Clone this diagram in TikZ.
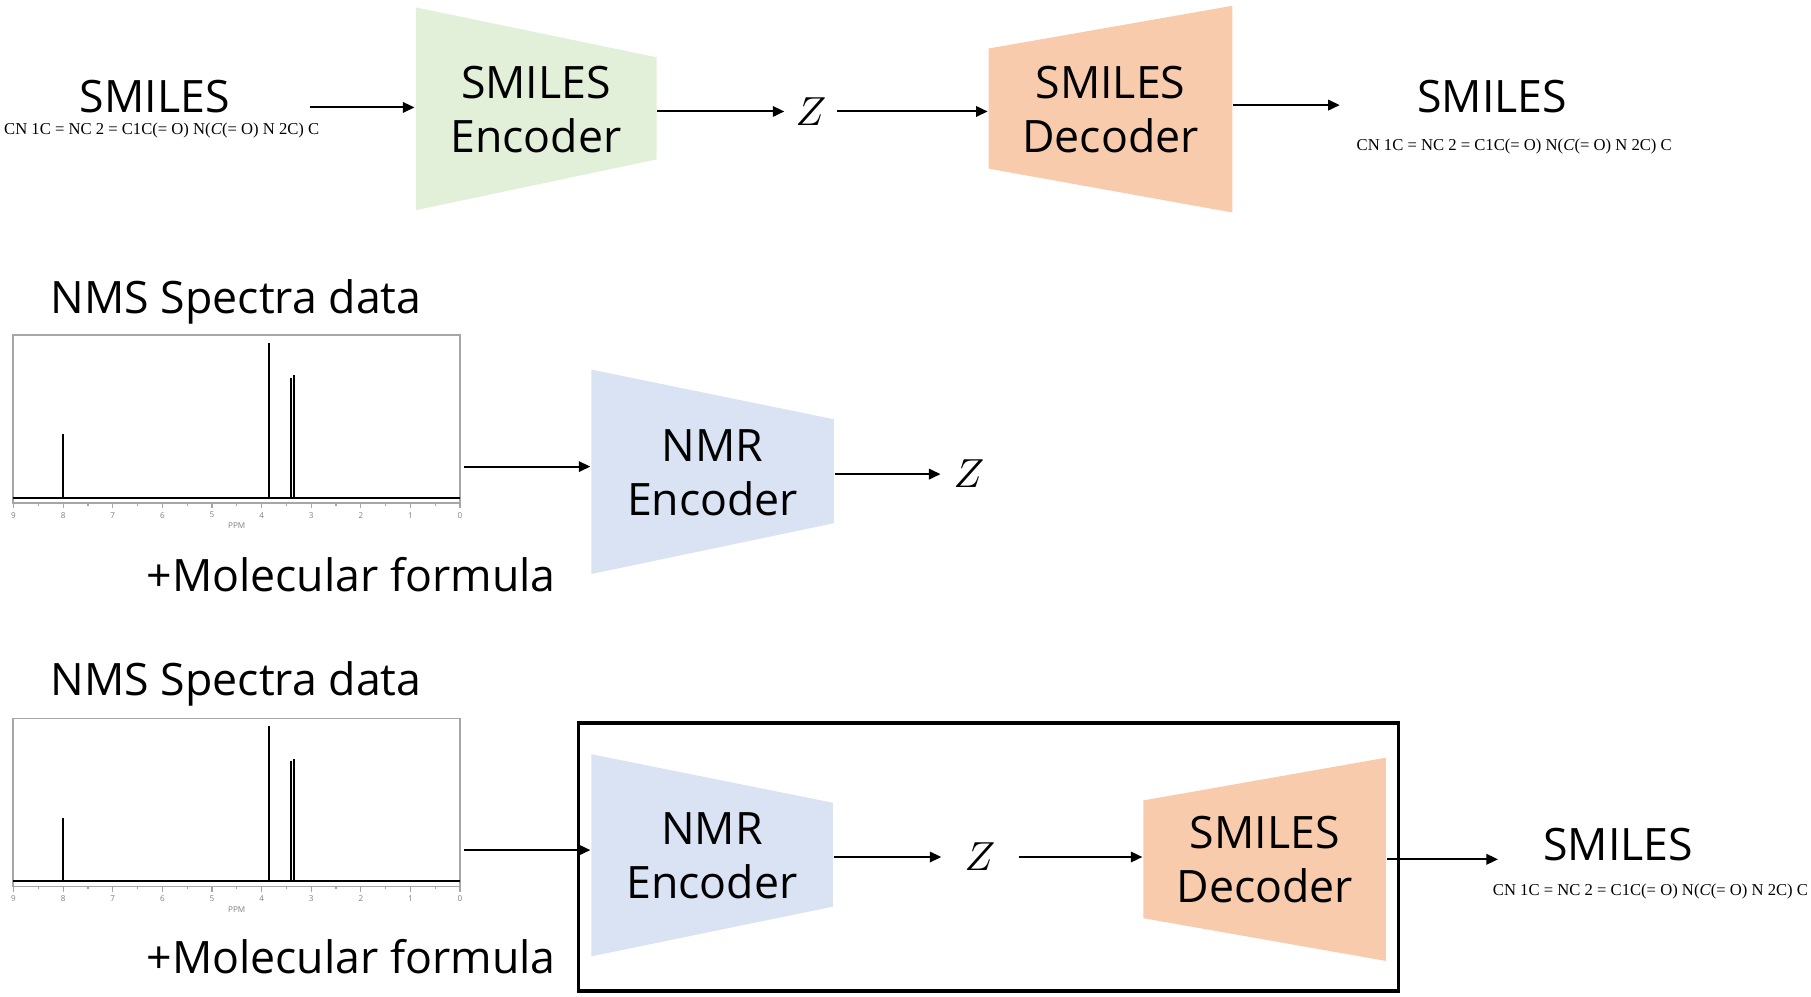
\documentclass[tikz,border=0pt]{standalone}
\usepackage{fontspec}
\setmainfont{Open Sans}
\newfontfamily\smilesfont{Liberation Serif}
\usetikzlibrary{arrows.meta}

\definecolor{encgreen}{HTML}{E2F0D9}
\definecolor{decorange}{HTML}{F8CBAD}
\definecolor{nmrblue}{HTML}{DAE3F3}

\newcommand{\smilesstr}{CN 1C = NC 2 = C1C(= O) N(\textit{C}(= O) N 2C) C}

\tikzset{
  lbl/.style={font=\fontsize{11}{13.2}\selectfont, inner sep=0pt},
  coder/.style={lbl, align=center, minimum height=0.9cm},
  zed/.style={font=\fontsize{10.4}{12}\selectfont, inner ysep=0pt, inner xsep=2.5pt},
  smi/.style={font=\smilesfont\fontsize{4.1}{5}\selectfont, inner sep=0pt},
  tick/.style={font=\fontsize{2}{2.4}\selectfont, text=gray, inner sep=0pt},
}

\begin{document}
\begin{tikzpicture}[x=1cm, y=-1cm, line width=0.5pt,
  arr/.style={-{Triangle[length=1mm,width=0.9mm]}}]
	\useasboundingbox (0,0) rectangle (15.68,8.63);

	% SMILES autoencoder
	\node[lbl] (in1) at (1.34,0.84) {SMILES};
	\node[smi] (in1f) at (1.40,1.13) {\smilesstr};
	\coordinate (in1a) at (2.68,0.93);
	\fill[encgreen] (3.60,0.064) -- (5.685,0.496) -- (5.685,1.38) -- (3.60,1.82) -- cycle;
	\node[coder, minimum width=2.085cm] (enc1) at (4.64,0.95) {SMILES\\Encoder};
	\node[zed] (z1) at (7.02,0.965) {$Z$};
	\fill[decorange] (8.56,0.42) -- (10.67,0.05) -- (10.67,1.84) -- (8.56,1.46) -- cycle;
	\node[coder, minimum width=2.11cm] (dec1) at (9.615,0.95) {SMILES\\Decoder};
	\coordinate (out1a) at (11.60,0.91);
	\node[lbl] (out1) at (12.92,0.835) {SMILES};
	\node[smi] (out1f) at (13.11,1.27) {\smilesstr};
	\draw[arr] (in1a) -- (in1a -| enc1.west);
	\draw[arr] (enc1.east |- z1) -- (z1.west);
	\draw[arr] (z1.east) -- (z1 -| dec1.west);
	\draw[arr] (dec1.east |- out1a) -- (out1a);

	% spectra
	\foreach \t/\s in {2.90/a,6.22/b} {
		\draw[gray!70, line width=0.4pt] (0.115,\t) rectangle (3.985,{\t+1.455});
		\foreach \p in {0,...,9} {
			\draw[gray!70, line width=0.3pt] ({3.983-0.4295*\p},{\t+1.455}) -- ++(0,0.045);
			\node[tick] (\s\p) at ({3.983-0.4295*\p},{\t+1.56}) {\p};
		}
		\foreach \p in {0.5,1.5,...,8.5}
			\draw[gray!70, line width=0.3pt] ({3.983-0.4295*\p},{\t+1.455}) -- ++(0,0.025);
		\node[tick] (ppm\s) at (2.05,{\t+1.655}) {PPM};
		\draw[line width=0.6pt] (0.115,{\t+1.41}) -- (3.985,{\t+1.41});
		\foreach \x/\h in {0.547/0.86, 2.330/0.07, 2.523/0.37, 2.544/0.35}
			\draw (\x,{\t+1.41}) -- (\x,{\t+\h});
	}

	% NMR encoder
	\node[lbl, anchor=base] (nms1) at (2.045,2.71) {NMS Spectra data};
	\coordinate (sp1a) at (4.02,4.04);
	\fill[nmrblue] (5.12,3.20) -- (7.22,3.63) -- (7.22,4.53) -- (5.12,4.97) -- cycle;
	\node[coder, minimum width=2.10cm] (enc2) at (6.17,4.095) {NMR\\Encoder};
	\node[zed, inner xsep=3pt] (z2) at (8.39,4.105) {$Z$};
	\node[lbl, anchor=base] (mol1) at (3.04,5.12) {+Molecular formula};
	\draw[arr] (sp1a) -- (sp1a -| enc2.west);
	\draw[arr] (enc2.east |- z2) -- (z2.west);

	% NMR to SMILES
	\node[lbl, anchor=base] (nms2) at (2.045,6.02) {NMS Spectra data};
	\coordinate (sp2a) at (4.02,7.36);
	\node[draw, line width=0.8pt, minimum width=7.10cm, minimum height=2.32cm, inner sep=0pt] (pipe) at (8.56,7.42) {};
	\fill[nmrblue] (5.12,6.53) -- (7.21,6.95) -- (7.21,7.85) -- (5.12,8.28) -- cycle;
	\node[coder, minimum width=2.09cm] (enc3) at (6.165,7.41) {NMR\\Encoder};
	\node[zed, inner xsep=5.5pt] (z3) at (8.485,7.42) {$Z$};
	\fill[decorange] (9.90,6.93) -- (12.00,6.56) -- (12.00,8.32) -- (9.90,7.95) -- cycle;
	\node[coder, minimum width=2.10cm] (dec2) at (10.95,7.44) {SMILES\\Decoder};
	\coordinate (out2a) at (12.97,7.44);
	\node[lbl] (out2) at (14.01,7.31) {SMILES};
	\node[smi] (out2f) at (14.29,7.72) {\smilesstr};
	\node[lbl, anchor=base] (mol2) at (3.04,8.43) {+Molecular formula};
	\draw[arr] (sp2a) -- (sp2a -| enc3.west);
	\draw[arr] (enc3.east |- z3) -- (z3.west);
	\draw[arr] (z3.east) -- (z3 -| dec2.west);
	\draw[arr] (dec2.east |- out2a) -- (out2a);
\end{tikzpicture}
\end{document}
